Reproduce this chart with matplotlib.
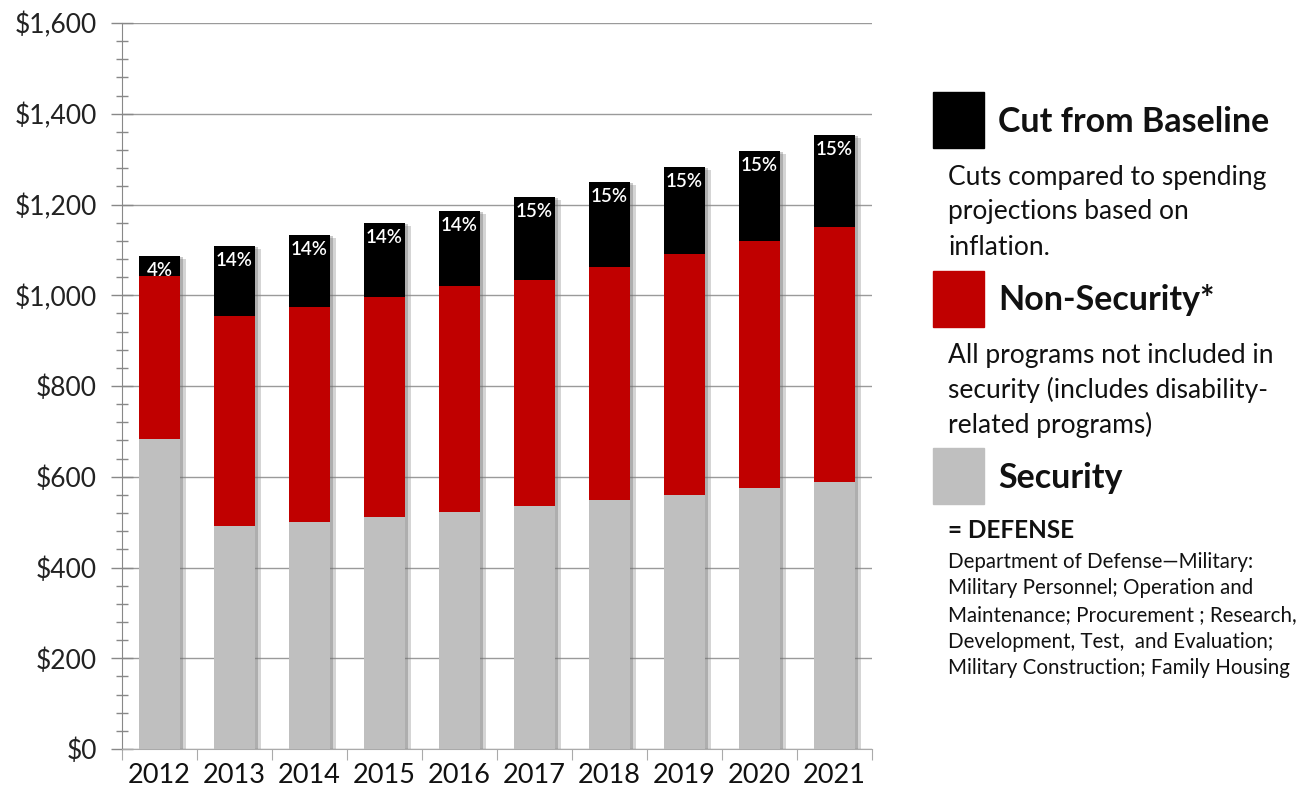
import numpy as np
import matplotlib.pyplot as plt
import matplotlib.patheffects as pe
from matplotlib.ticker import MultipleLocator, FuncFormatter

plt.rcParams['font.family'] = ['Lato', 'DejaVu Sans']

years = ['2012', '2013', '2014', '2015', '2016', '2017', '2018', '2019', '2020', '2021']
# baseline totals ($ billions) and split of the bars
baseline = [1087, 1109, 1133, 1159, 1186, 1217, 1250, 1283, 1318, 1353]
cut_pct = [4, 14, 14, 14, 14, 15, 15, 15, 15, 15]
security = [684, 491, 501, 511, 522, 536, 549, 560, 575, 588]

baseline = np.array(baseline, dtype=float)
security = np.array(security, dtype=float)
cut = baseline * np.array(cut_pct) / 100.0
non_security = baseline - cut - security

W, H = 1315, 794
fig = plt.figure(figsize=(W / 100, H / 100), dpi=100)
ax = fig.add_axes([122 / W, 1 - 749 / H, 750 / W, (749 - 23) / H])

x = np.arange(len(years))
bw = 0.55

# soft drop shadow behind each full stack
sh = ax.bar(x, baseline, bw, color='none', zorder=2)
for p in sh:
    p.set_path_effects([pe.SimplePatchShadow(offset=(4, -2), shadow_rgbFace='#888888', alpha=0.35),
                        pe.SimplePatchShadow(offset=(2, -1), shadow_rgbFace='#666666', alpha=0.35)])

ax.bar(x, security, bw, color='#BFBFBF', zorder=3)
ax.bar(x, non_security, bw, bottom=security, color='#C00000', zorder=3)
ax.bar(x, cut, bw, bottom=security + non_security, color='#000000', zorder=3)

for xi, top, pct in zip(x, baseline, cut_pct):
    ax.text(xi, top - 14, f'{pct}%', color='white', ha='center', va='top',
            fontsize=13.5, fontweight='semibold', zorder=5)

ax.set_xlim(-0.5, len(years) - 0.5)
ax.set_ylim(0, 1600)
ax.yaxis.set_major_locator(MultipleLocator(200))
ax.yaxis.set_minor_locator(MultipleLocator(40))
ax.yaxis.set_major_formatter(FuncFormatter(lambda v, _: f'${v:,.0f}'))
ax.tick_params(axis='y', which='major', direction='inout', length=16, width=1,
               color='#888888', labelsize=19, pad=10, labelcolor='#222222')
ax.tick_params(axis='y', which='minor', direction='inout', length=8, width=1, color='#888888')

# category boundaries carry the tick marks, centres carry the year labels
ax.set_xticks(np.arange(-0.5, len(years), 1.0))
ax.set_xticklabels([])
ax.set_xticks(x, minor=True)
ax.set_xticklabels(years, minor=True)
ax.tick_params(axis='x', which='major', direction='out', length=8, color='#aaaaaa')
ax.tick_params(axis='x', which='minor', length=0, labelsize=19.5, pad=10, labelcolor='#111111')

ax.grid(axis='y', which='major', color='#9a9a9a', lw=1, zorder=0)
ax.set_axisbelow(True)
for s in ('top', 'right'):
    ax.spines[s].set_visible(False)
ax.spines['left'].set_color('#888888')
ax.spines['bottom'].set_color('#aaaaaa')


def fx(px):
    return px / W


def fy(py):
    return 1 - py / H


# legend panel
legend_items = [
    ('#000000', 92, 'Cut from Baseline', 122,
     ['Cuts compared to spending', 'projections based on', 'inflation.'], 177),
    ('#C00000', 271, 'Non-Security*', 300,
     ['All programs not included in', 'security (includes disability-', 'related programs)'], 355),
    ('#BFBFBF', 448, 'Security', 478, [], 0),
]
for color, top, title, ty, lines, ly in legend_items:
    fig.patches.append(plt.Rectangle((fx(933), fy(top + 56)), 51 / W, 56 / H,
                                     transform=fig.transFigure, color=color))
    fig.text(fx(998), fy(ty), title, fontsize=24.5, fontweight='bold', va='center', color='#111111')
    for i, line in enumerate(lines):
        fig.text(fx(948), fy(ly + 35 * i), line, fontsize=19, va='center', color='#111111')

fig.text(fx(948), fy(530), '= DEFENSE', fontsize=17.5, fontweight='bold', va='center', color='#111111')
defense_lines = ['Department of Defense\u2014Military:',
                 'Military Personnel; Operation and',
                 'Maintenance; Procurement ; Research,',
                 'Development, Test,  and Evaluation;',
                 'Military Construction; Family Housing']
for i, line in enumerate(defense_lines):
    fig.text(fx(948), fy(562 + 26.5 * i), line, fontsize=14.8, va='center', color='#111111')

fig.savefig('out.png', dpi=100)
